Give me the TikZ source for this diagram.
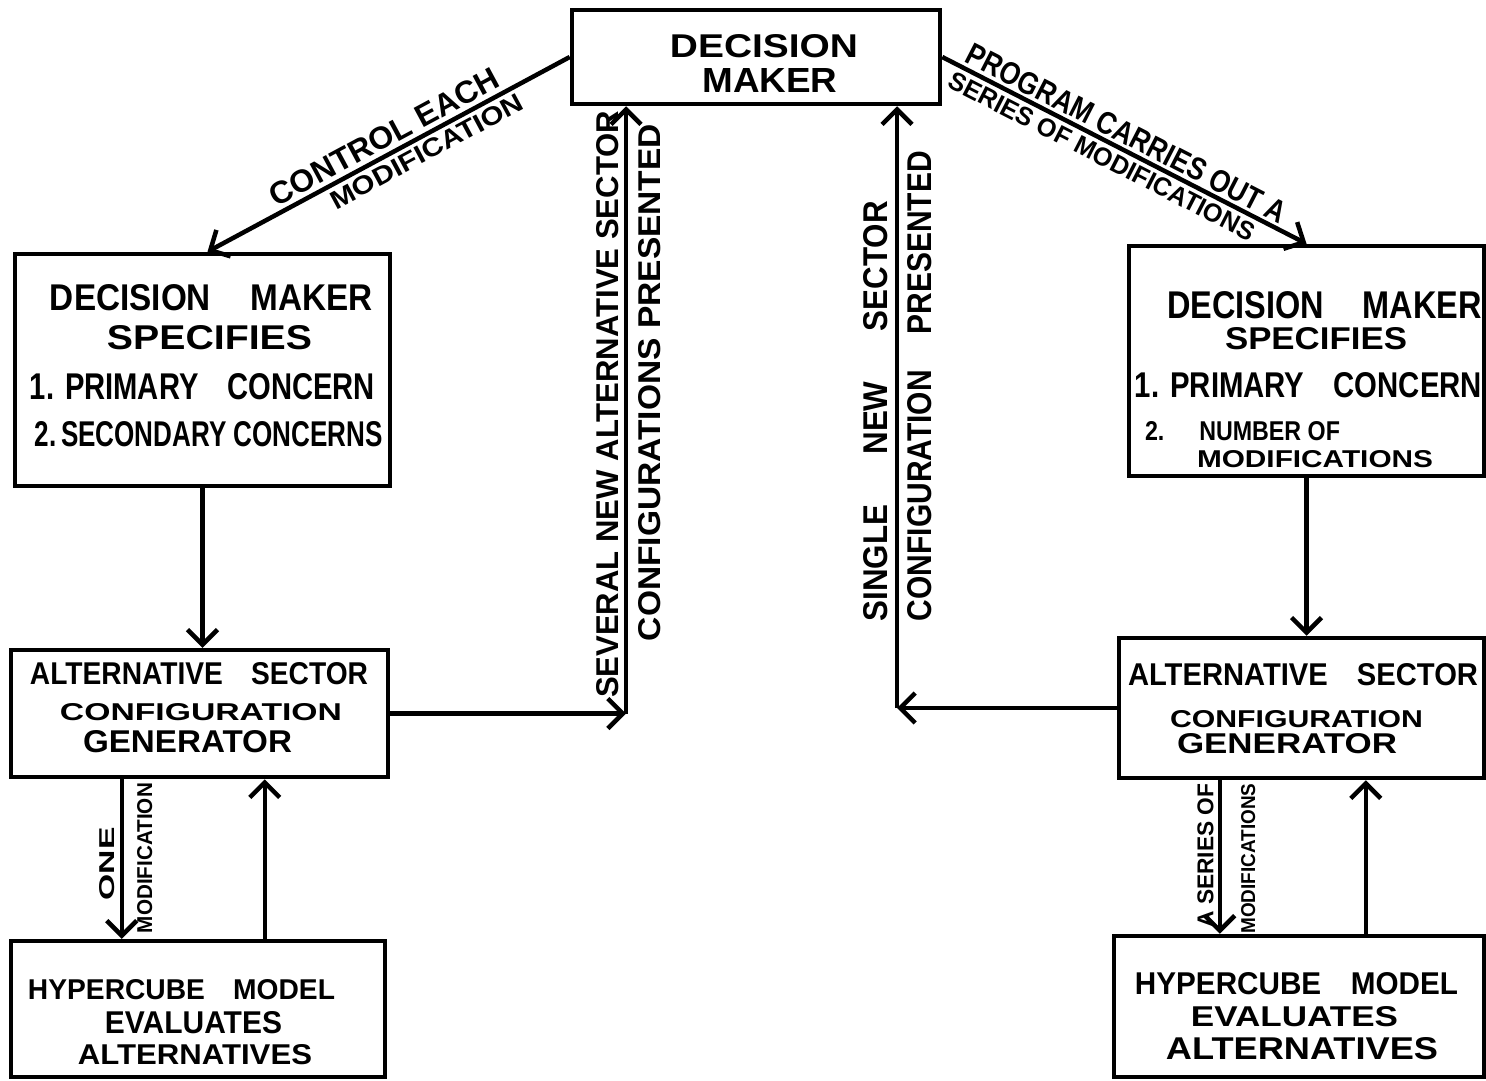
\documentclass[tikz,border=0pt]{standalone}
\usepackage{graphicx}
\usepackage{fontspec}
\setmainfont{Liberation Sans}
\usetikzlibrary{arrows.meta}
\newcommand{\hw}[3]{\resizebox{#1pt}{#2pt}{\bfseries #3}}
\begin{document}
\begin{tikzpicture}[x=1pt,y=-1pt,
  >={Straight Barb[length=15pt,width=30pt]},
  box/.style={draw, line width=4.5pt, inner sep=0pt, rectangle},
  ln/.style={line width=4.5pt},
  tl/.style={inner sep=0pt},
  lab/.style={sloped, inner sep=4pt}]
\useasboundingbox (0,0) rectangle (1486,1081);
\fill[white] (0,0) rectangle (1486,1081);

% boxes
\node[box, minimum width=368pt, minimum height=94pt]  (dm) at (756,57) {};
\node[box, minimum width=375pt, minimum height=232pt] (lb) at (202.5,370) {};
\node[box, minimum width=377pt, minimum height=127pt] (lg) at (199.5,713.5) {};
\node[box, minimum width=374pt, minimum height=136pt] (lh) at (198,1009) {};
\node[box, minimum width=355pt, minimum height=230pt] (rb) at (1306.5,361) {};
\node[box, minimum width=365pt, minimum height=140pt] (rg) at (1301.5,708) {};
\node[box, minimum width=370pt, minimum height=141pt] (rh) at (1299,1006.5) {};

% box texts
\node[tl] (dm1) at (764,46) {\hw{188}{23}{DECISION}};
\node[tl] (dm2) at (770,80) {\hw{135}{24}{MAKER}};

\node[tl] (lb1) at (211.5,298) {\hw{323}{26}{DECISION\hspace{1.2em}MAKER}};
\node[tl] (lb2) at (209.5,338) {\hw{205}{24}{SPECIFIES}};
\node[tl] (lb3) at (202.5,387) {\hw{345}{26}{1. PRIMARY\hspace{1em}CONCERN}};
\node[tl] (lb4) at (209,434) {\hw{348}{25}{2.\,SECONDARY CONCERNS}};

\node[tl] (rb1) at (1324.5,305) {\hw{315}{27}{DECISION\hspace{1.2em}MAKER}};
\node[tl] (rb2) at (1316,339) {\hw{182}{22}{SPECIFIES}};
\node[tl] (rb3) at (1308.5,385) {\hw{347}{25}{1. PRIMARY\hspace{1em}CONCERN}};
\node[tl] (rb4) at (1242.5,431) {\hw{195}{19}{2.\hspace{1.5em}NUMBER OF}};
\node[tl] (rb5) at (1315,459) {\hw{236}{17}{MODIFICATIONS}};

\node[tl] (lg1) at (199,674) {\hw{338}{22}{ALTERNATIVE\hspace{1em}SECTOR}};
\node[tl] (lg2) at (201,712) {\hw{282}{17}{CONFIGURATION}};
\node[tl] (lg3) at (187.5,742) {\hw{209}{22}{GENERATOR}};

\node[tl] (rg1) at (1303,675) {\hw{350}{22}{ALTERNATIVE\hspace{1em}SECTOR}};
\node[tl] (rg2) at (1296.5,719) {\hw{253}{17}{CONFIGURATION}};
\node[tl] (rg3) at (1287,744) {\hw{220}{20}{GENERATOR}};

\node[tl] (lh1) at (181.5,990) {\hw{307}{20}{HYPERCUBE\hspace{1em}MODEL}};
\node[tl] (lh2) at (193.5,1023) {\hw{177}{22}{EVALUATES}};
\node[tl] (lh3) at (195,1055) {\hw{234}{20}{ALTERNATIVES}};

\node[tl] (rh1) at (1296.5,984) {\hw{323}{22}{HYPERCUBE\hspace{1em}MODEL}};
\node[tl] (rh2) at (1294.5,1017) {\hw{207}{20}{EVALUATES}};
\node[tl] (rh3) at (1302,1049) {\hw{272}{22}{ALTERNATIVES}};

% connectors
\draw[ln,<-] ([xshift=5pt]lb.north) --
  node[lab, anchor=south, pos=0.51] (l1) {\hw{256}{22}{CONTROL EACH}}
  node[lab, anchor=north, pos=0.585] (l2) {\hw{215}{18}{MODIFICATION}}
  (dm.west);

\draw[ln,->] (dm.east) --
  node[lab, anchor=south, pos=0.486, inner sep=3pt] (l3) {\hw{355}{22}{PROGRAM CARRIES OUT A}}
  node[lab, anchor=north, pos=0.458] (l4) {\hw{340}{18}{SERIES OF MODIFICATIONS}}
  (rb.north);

\coordinate (cL) at (626,713.5);
\draw[ln,->] (lg.east) -- (cL);
\draw[ln,->] (cL) --
  node[lab, anchor=south, pos=0.509, inner sep=5pt] (l5) {\hw{587}{22}{SEVERAL NEW ALTERNATIVE SECTOR}}
  node[lab, anchor=north, pos=0.545, inner sep=10pt] (l6) {\hw{517}{22}{CONFIGURATIONS PRESENTED}}
  (cL |- dm.south);

\coordinate (cR) at (897,708);
\draw[ln,->] (rg.west) -- (cR);
\draw[ln,->] (cR) --
  node[lab, anchor=south, pos=0.493, inner sep=7pt] (l7) {\hw{420}{24}{SINGLE\hspace{1.6em}NEW\hspace{1.6em}SECTOR}}
  node[lab, anchor=north, pos=0.535, inner sep=8pt] (l8) {\hw{470}{24}{CONFIGURATION\hspace{1.2em}PRESENTED}}
  (cR |- dm.south);

\draw[ln,->] (lb.south) -- (lb.south |- lg.north);
\draw[ln,->] (rb.south) -- (rb.south |- rg.north);

\draw[ln,<-] ([xshift=113pt]lh.north west) --
  node[lab, anchor=south, pos=0.47, inner sep=5pt] (l9) {\hw{73}{15}{ONE}}
  node[lab, anchor=north, pos=0.506, inner sep=13pt] (l10) {\hw{150}{15}{MODIFICATION}}
  ([xshift=113pt]lg.south west);
\draw[ln,->] ([xshift=256pt]lh.north west) -- ([xshift=256pt]lg.south west);

\draw[ln,<-] ([xshift=108pt]rh.north west) --
  node[lab, anchor=south, pos=0.51, inner sep=4pt] (l11) {\hw{144}{16}{A SERIES OF}}
  node[lab, anchor=north, pos=0.49, inner sep=19pt] (l12) {\hw{150}{14}{MODIFICATIONS}}
  ([xshift=103pt]rg.south west);
\draw[ln,->] ([xshift=254pt]rh.north west) -- ([xshift=249pt]rg.south west);
\end{tikzpicture}
\end{document}
